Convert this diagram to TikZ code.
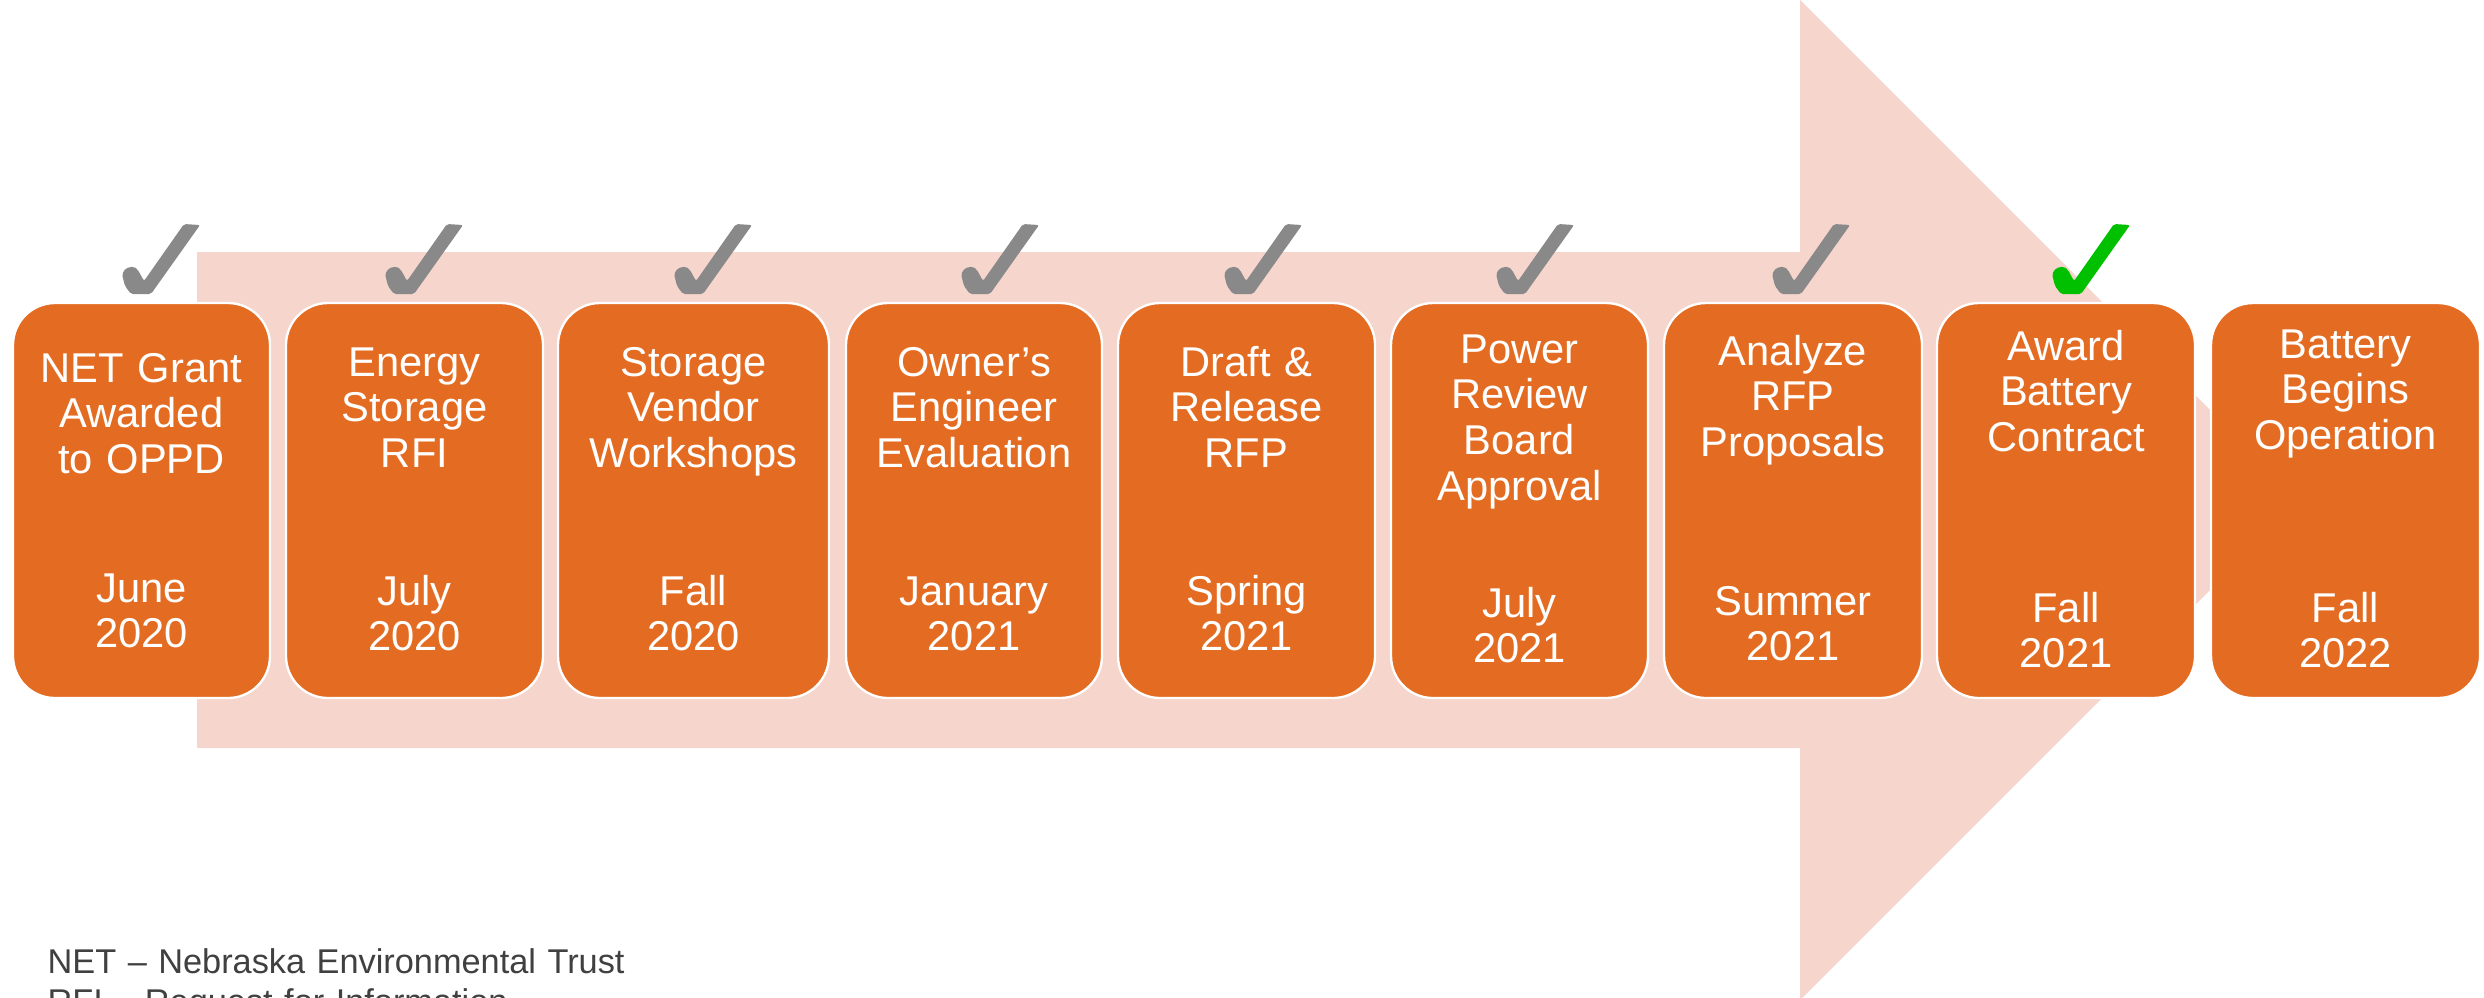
\documentclass[tikz,border=0pt]{standalone}
\usepackage{fontspec}
\setmainfont{Liberation Sans}
\definecolor{boxorange}{RGB}{228,108,34}
\definecolor{arrowpink}{RGB}{245,213,204}
\definecolor{chkgray}{RGB}{137,137,137}
\definecolor{chkgreen}{RGB}{0,192,0}
\definecolor{notegray}{RGB}{64,64,64}
\tikzset{
  stepbox/.style={rectangle, rounded corners=12.6pt, fill=boxorange, draw=white,
    line width=0.7pt, minimum height=395*0.3pt, inner sep=0pt},
  boxtxt/.style={text=white, font=\fontsize{12.5pt}{13.7pt}\selectfont,
    align=center, inner sep=0pt, text width=250*0.3pt, anchor=base},
  notetxt/.style={text=notegray, font=\fontsize{10.3pt}{12pt}\selectfont,
    align=left, inner sep=0pt, text width=700*0.3pt, anchor=base west},
  chk/.pic={\fill[#1, rounded corners=0.6pt] (2,-8) -- (-1,-20) -- (3,-26) -- (11,-27.5)
      -- (15,-24) -- (21,-13) -- (61,-70) -- (77,-69) -- (28,0) -- (8,0) -- cycle;}
}
\begin{document}
\begin{tikzpicture}[x=0.3pt, y=-0.3pt]
\useasboundingbox (0,0) rectangle (2484,997);
% big arrow
\fill[arrowpink] (197,252) -- (1800,252) -- (1800,0) -- (2300,500) -- (1800,1000)
  -- (1800,748) -- (197,748) -- cycle;
% check marks
\pic at (123,294) {chk=chkgray};
\pic at (386,294) {chk=chkgray};
\pic at (675,294) {chk=chkgray};
\pic at (962,294) {chk=chkgray};
\pic at (1225,294) {chk=chkgray};
\pic at (1497,294) {chk=chkgray};
\pic at (1773,294) {chk=chkgray};
\pic at (2053,294) {chk=chkgreen};
% boxes
\node[stepbox, minimum width=257*0.3pt] (b1) at (141.5,500.5) {};
\node[stepbox, minimum width=257*0.3pt] (b2) at (414.5,500.5) {};
\node[stepbox, minimum width=271*0.3pt] (b3) at (693.5,500.5) {};
\node[stepbox, minimum width=256*0.3pt] (b4) at (974,500.5) {};
\node[stepbox, minimum width=257*0.3pt] (b5) at (1246.5,500.5) {};
\node[stepbox, minimum width=257*0.3pt] (b6) at (1519.5,500.5) {};
\node[stepbox, minimum width=258*0.3pt] (b7) at (1793,500.5) {};
\node[stepbox, minimum width=258*0.3pt] (b8) at (2066,500.5) {};
\node[stepbox, minimum width=269*0.3pt] (b9) at (2345.5,500.5) {};
% titles
\node[boxtxt] (t1) at (141.5,382) {NET Grant\\Awarded\\to OPPD};
\node[boxtxt] (t2) at (414.5,376) {Energy\\Storage\\RFI};
\node[boxtxt] (t3) at (693.5,376) {Storage\\Vendor\\Workshops};
\node[boxtxt] (t4) at (974,376) {Owner’s\\Engineer\\Evaluation};
\node[boxtxt] (t5) at (1246.5,376) {Draft \&\\Release\\RFP};
\node[boxtxt] (t6) at (1519.5,363) {Power\\Review\\Board\\Approval};
\node[boxtxt] (t7) at (1793,365) {Analyze\\RFP\\Proposals};
\node[boxtxt] (t8) at (2066,360) {Award\\Battery\\Contract};
\node[boxtxt] (t9) at (2345.5,358) {Battery\\Begins\\Operation};
% dates
\node[boxtxt] (d1) at (141.5,602) {June\\2020};
\node[boxtxt] (d2) at (414.5,605) {July\\2020};
\node[boxtxt] (d3) at (693.5,605) {Fall\\2020};
\node[boxtxt] (d4) at (974,605) {January\\2021};
\node[boxtxt] (d5) at (1246.5,605) {Spring\\2021};
\node[boxtxt] (d6) at (1519.5,617) {July\\2021};
\node[boxtxt] (d7) at (1793,615) {Summer\\2021};
\node[boxtxt] (d8) at (2066,622) {Fall\\2021};
\node[boxtxt] (d9) at (2345.5,622) {Fall\\2022};
% notes
\node[notetxt] (n1) at (47,973) {NET – Nebraska Environmental Trust\\RFI – Request for Information};
\end{tikzpicture}
\end{document}
